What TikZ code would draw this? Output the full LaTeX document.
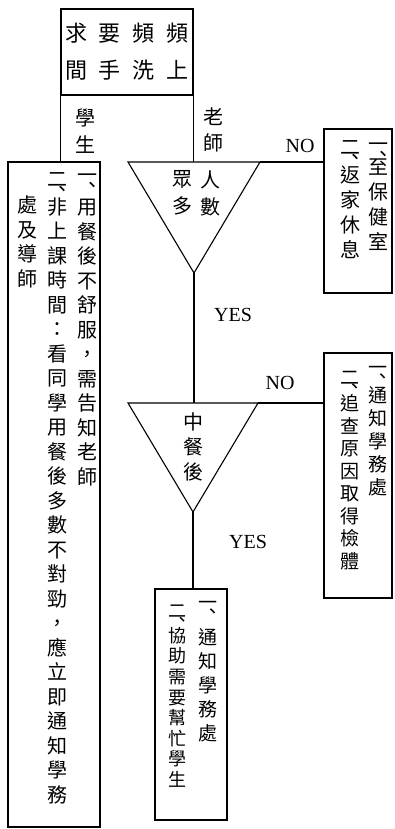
\documentclass[tikz,border=0pt]{standalone}
\usepackage{fontspec}
\setmainfont{Liberation Serif}
\newfontfamily\cjk{Noto Sans CJK TC}
\newcommand\dunhao{\rlap{\hspace{-0.72em}\raisebox{-0.5em}{、}}}
\begin{document}
\begin{tikzpicture}[x=1pt,y=-1pt,
    box/.style={draw,line width=1.1pt,inner sep=0pt},
    vcol/.style={font=\cjk\fontsize{20}{24.5}\selectfont,align=center,inner sep=0pt,anchor=north},
    lbl/.style={font=\fontsize{20}{20}\selectfont,inner sep=0pt}]
  \useasboundingbox (0,0) rectangle (394,829);
  % boxes
  \node[box,minimum width=132pt,minimum height=86pt,
        font=\cjk\fontsize{22}{37}\selectfont,align=center] (ask) at (127,52)
    {求\hspace{12pt}要\hspace{12pt}頻\hspace{12pt}頻\\間\hspace{12pt}手\hspace{12pt}洗\hspace{12pt}上};
  \node[box,minimum width=92pt,minimum height=665pt] (lbox) at (54,494.5) {};
  \node[box,minimum width=68pt,minimum height=164pt] (r1) at (358,211) {};
  \node[box,minimum width=68pt,minimum height=245pt] (r2) at (358,475.5) {};
  \node[box,minimum width=72pt,minimum height=231pt] (bbox) at (191,704.5) {};
  % triangles
  \coordinate (t1l) at (128,162);
  \coordinate (t1r) at (260,162);
  \coordinate (t1a) at (194,273);
  \coordinate (t2l) at (128,403);
  \coordinate (t2r) at (258,403);
  \coordinate (t2a) at (193,512);
  \draw[line width=1.1pt] (t1l) -- (t1r) -- (t1a) -- cycle;
  \draw[line width=1.1pt] (t2l) -- (t2r) -- (t2a) -- cycle;
  % texts
  \node[vcol] (lc1) at (87,173.5) {一\dunhao\\[6pt]用\\餐\\後\\不\\舒\\服\\，\\需\\告\\知\\老\\師};
  \node[vcol] (lc2) at (57,172.5) {二\dunhao\\非\\上\\課\\時\\間\\：\\看\\同\\學\\用\\餐\\後\\多\\數\\不\\對\\勁\\，\\應\\立\\即\\通\\知\\學\\務};
  \node[vcol] (lc3) at (27,195.5) {處\\及\\導\\師};
  \node[vcol,font=\cjk\fontsize{20}{25}\selectfont] (r1c1) at (378,142.5) {一\dunhao\\[-4pt]至\\保\\健\\室};
  \node[vcol,font=\cjk\fontsize{20}{25}\selectfont] (r1c2) at (350,140.5) {二\dunhao\\返\\家\\休\\息};
  \node[vcol,font=\cjk\fontsize{19}{23}\selectfont] (r2c1) at (378,366) {一\dunhao\\[2pt]通\\知\\學\\務\\處};
  \node[vcol,font=\cjk\fontsize{19}{22.5}\selectfont] (r2c2) at (350,371) {二\dunhao\\追\\查\\原\\因\\取\\得\\檢\\體};
  \node[vcol,font=\cjk\fontsize{19}{24}\selectfont] (bc1) at (208,601) {一\dunhao\\[9pt]通\\知\\學\\務\\處};
  \node[vcol,font=\cjk\fontsize{18}{20.6}\selectfont] (bc2) at (177,604.5) {二\dunhao\\協\\助\\需\\要\\幫\\忙\\學\\生};
  \node[vcol,font=\cjk\fontsize{20}{27}\selectfont] (q1a) at (210,170.5) {人\\數};
  \node[vcol,font=\cjk\fontsize{20}{27}\selectfont] (q1b) at (182,170.5) {眾\\多};
  \node[vcol,font=\cjk\fontsize{20}{25}\selectfont] (q2) at (193,412.5) {中\\餐\\後};
  \node[vcol,font=\cjk\fontsize{20}{27}\selectfont] (stu) at (85,108.5) {學\\生};
  \node[vcol,font=\cjk\fontsize{20}{26}\selectfont] (tea) at (213,107.5) {老\\師};
  \node[lbl] (no1) at (300,146) {NO};
  \node[lbl] (no2) at (280,383) {NO};
  \node[lbl] (yes1) at (233,315) {YES};
  \node[lbl] (yes2) at (248,542) {YES};
  % connectors
  \begin{scope}[line width=1.1pt]
    \draw (ask.south west) -- (ask.south west |- lbox.north);
    \draw (ask.south east) -- (ask.south east |- t1l);
    \draw (t1r) -- (r1.west |- t1r);
    \draw (t1a) -- (t1a |- t2l);
    \draw (t2r) -- (r2.west |- t2r);
    \draw (t2a) -- (t2a |- bbox.north);
  \end{scope}
\end{tikzpicture}
\end{document}
